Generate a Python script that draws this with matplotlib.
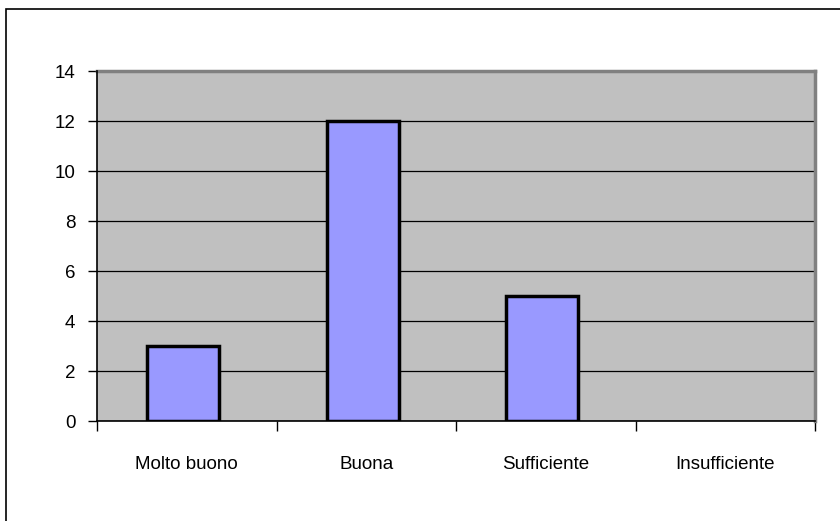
import matplotlib
matplotlib.use("Agg")
import matplotlib.pyplot as plt
from matplotlib.patches import Rectangle
import numpy as np

categories = ["Molto buono", "Buona", "Sufficiente", "Insufficiente"]
values = [3, 12, 5, 0]
yticks = [0, 2, 4, 6, 8, 10, 12, 14]

plt.rcParams['font.family'] = ['Liberation Sans', 'DejaVu Sans']

fig = plt.figure(figsize=(8.4, 5.21), dpi=100)
fig.patch.set_facecolor('white')

# outer chart border (cropped at right and bottom)
fig.patches.append(Rectangle((5.5 / 840, -0.1), 1.2, 1 - 8.5 / 521 + 0.1,
                             transform=fig.transFigure, fill=False,
                             edgecolor='black', linewidth=1.2, zorder=0))

ax = fig.add_axes([97 / 840, 1 - 421 / 521, (815 - 97) / 840, (421 - 71) / 521])
ax.set_facecolor('#C0C0C0')

x = np.arange(len(categories))
lw = [2.5 if v > 0 else 0 for v in values]
ax.bar(x - 0.02, values, width=0.4, color='#9999FF', edgecolor='black', linewidth=lw, zorder=3)

ax.set_xlim(-0.5, len(categories) - 0.5)
ax.set_ylim(0, 14)
ax.set_yticks(yticks)
ax.set_yticklabels([str(v) for v in yticks], fontsize=13.5)
ax.yaxis.grid(True, color='black', linewidth=0.9, zorder=1)
ax.set_axisbelow(True)

ax.set_xticks(x)
ax.set_xticklabels(categories, fontsize=13.5)
ax.tick_params(axis='x', which='major', length=0, pad=25)
ax.set_xticks(np.arange(-0.5, len(categories), 1.0), minor=True)
ax.tick_params(axis='x', which='minor', length=7, width=1, color='black', direction='out')
ax.tick_params(axis='y', length=6.5, width=1, color='black', direction='out', pad=9)

for s in ['top', 'right']:
    ax.spines[s].set_color('#808080')
    ax.spines[s].set_linewidth(2.5)
for s in ['left', 'bottom']:
    ax.spines[s].set_color('black')
    ax.spines[s].set_linewidth(1.2)
    ax.spines[s].set_zorder(4)

fig.savefig("out.png", dpi=100)
